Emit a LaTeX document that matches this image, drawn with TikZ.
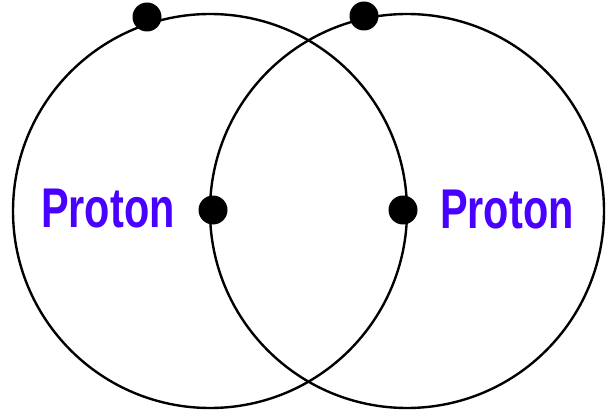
\documentclass[tikz,border=0pt]{standalone}
\usepackage{fontspec}
\usepackage{graphicx}
\newfontfamily\protonfont{Liberation Sans}
\definecolor{protonblue}{RGB}{72,0,255}
\begin{document}
\begin{tikzpicture}[x=1pt,y=-1pt,
  orbit/.style={circle,draw=black,line width=2.4pt,minimum size=394pt,inner sep=0pt},
  particle/.style={circle,fill=black,minimum size=29pt,inner sep=0pt},
  label/.style={text=protonblue,font=\protonfont\bfseries\fontsize{56}{56}\selectfont,inner sep=0pt,anchor=base west}]
\useasboundingbox (0,0) rectangle (608,417);
\node[orbit] (L) at (210,211) {};
\node[orbit] (R) at (407,211) {};
\node[particle] (d1) at (147,17) {};
\node[particle] (d2) at (364,16) {};
\node[particle] (d3) at (213,210) {};
\node[particle] (d4) at (403,210) {};
\node[label] (t1) at (41,227) {\scalebox{0.74}[1]{Proton}};
\node[label] (t2) at (440,228) {\scalebox{0.74}[1]{Proton}};
\end{tikzpicture}
\end{document}
